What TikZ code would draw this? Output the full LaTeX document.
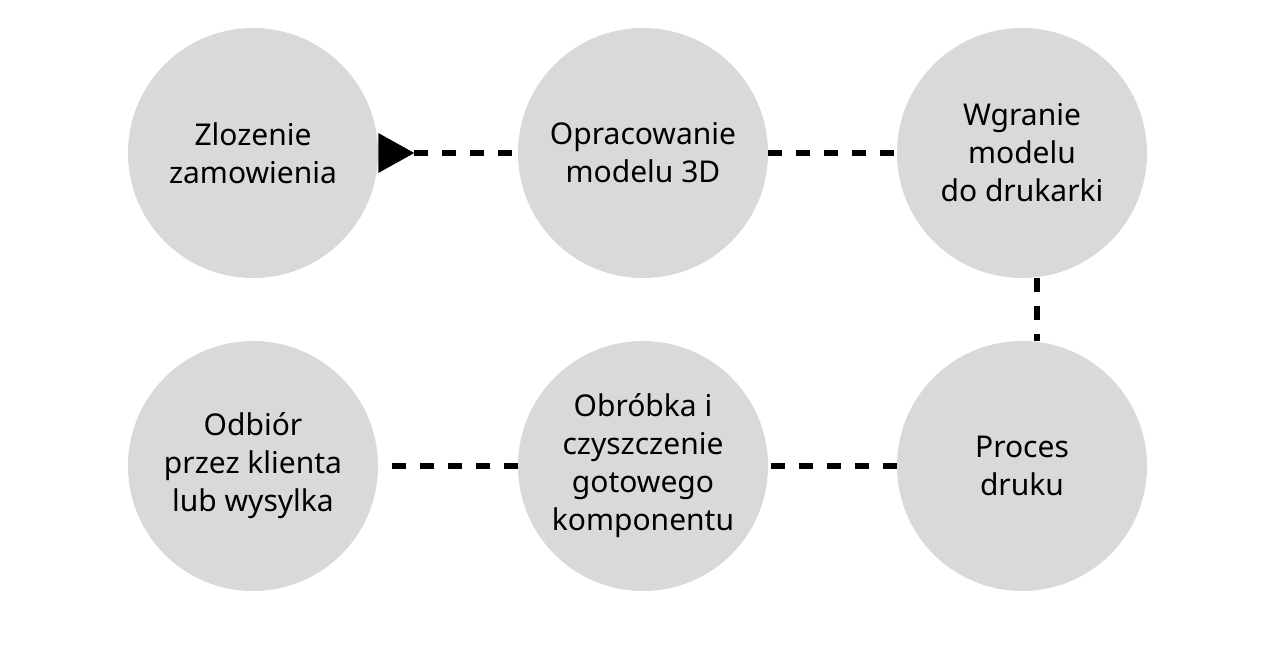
\documentclass[tikz,border=0pt]{standalone}
\usepackage{fontspec}
\setmainfont{Noto Sans}
\usepackage{tikz}
\usetikzlibrary{arrows.meta}

\begin{document}
\begin{tikzpicture}[x=0.75pt,y=-0.75pt,
    stage/.style={circle,fill=black!15,minimum size=187.5pt,inner sep=0pt,
        align=center,font=\fontsize{22.5}{28.5}\selectfont},
    flow/.style={line width=4.5pt,dash pattern=on 10.5pt off 10.5pt}]

%% canvas
\useasboundingbox (0,0) rectangle (1271,646);

% TOP ROW
\node[stage] (zlozenie) at (253,153) {Zlozenie\\zamowienia};
\node[stage] (model) at (643,153) {Opracowanie\\modelu 3D};
\node[stage] (wgranie) at (1022,153) {Wgranie\\modelu\\do drukarki};

% BOTTOM ROW
\node[stage] (odbior) at (253,466) {Odbiór\\przez klienta\\lub wysylka};
\node[stage] (obrobka) at (643,466) {Obróbka i\\czyszczenie\\gotowego\\komponentu};
\node[stage] (druk) at (1022,466) {Proces\\druku};

% CONNECTORS
\draw[flow,{Triangle[reversed,length=27pt,width=30pt,line width=0pt]}-] (zlozenie) -- (model);
\draw[flow] (model) -- (wgranie);
\draw[flow] ([xshift=11]wgranie.south) -- ([xshift=11]druk.north);
\draw[flow] (druk) -- (obrobka);
\draw[flow] (obrobka) -- (odbior);
\end{tikzpicture}
\end{document}
